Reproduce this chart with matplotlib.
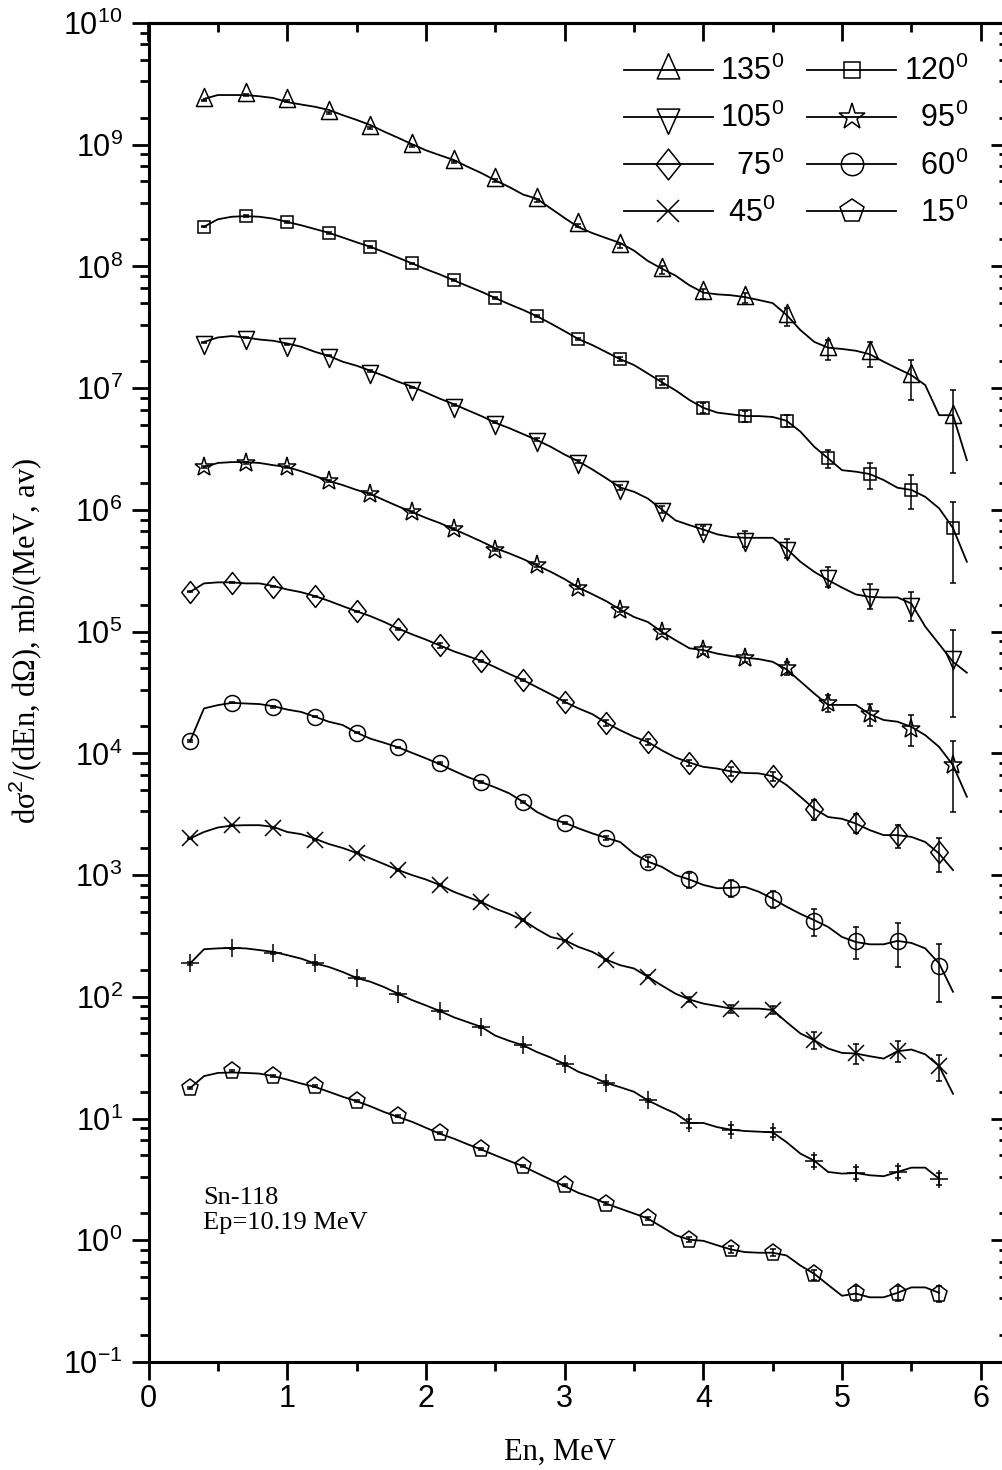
import numpy as np
import matplotlib.pyplot as plt
from matplotlib.path import Path
from matplotlib.lines import Line2D
from matplotlib.ticker import MultipleLocator, LogLocator, FixedLocator, NullFormatter

plt.rcParams['font.family'] = ['Liberation Sans', 'DejaVu Sans']
plt.rcParams['mathtext.fontset'] = 'custom'
plt.rcParams['mathtext.rm'] = 'Liberation Sans'
plt.rcParams['mathtext.it'] = 'Liberation Sans:italic'
plt.rcParams['mathtext.bf'] = 'Liberation Sans:bold'

# measured points: backward angles start at 0.4 MeV, forward ones at 0.3 MeV
en_a = [0.4, 0.7, 1.0, 1.3, 1.6, 1.9, 2.2, 2.5, 2.8, 3.1, 3.4, 3.7, 4.0, 4.3, 4.6, 4.9, 5.2, 5.5, 5.8]
en_b = [0.3, 0.6, 0.9, 1.2, 1.5, 1.8, 2.1, 2.4, 2.7, 3.0, 3.3, 3.6, 3.9, 4.2, 4.5, 4.8, 5.1, 5.4, 5.7]

y135 = [2.31e9, 2.56e9, 2.27e9, 1.82e9, 1.37e9, 9.8e8, 7.2e8, 5.1e8, 3.5e8, 2.17e8,
        1.47e8, 9.35e7, 6.0e7, 5.55e7, 3.9e7, 2.1e7, 1.93e7, 1.25e7, 5.8e6]
e135 = [4e7, 4e7, 4e7, 3e7, 3e7, 2e7, 1.5e7, 1.2e7, 1e7, 8e6,
        6e6, 6.5e6, 5.5e6, 5.5e6, 6.5e6, 4e6, 4.5e6, 4.5e6, 3.8e6]
y120 = [2.12e8, 2.6e8, 2.32e8, 1.89e8, 1.45e8, 1.06e8, 7.7e7, 5.5e7, 3.9e7, 2.53e7,
        1.73e7, 1.12e7, 6.9e6, 5.9e6, 5.4e6, 2.65e6, 1.97e6, 1.47e6, 7.1e5]
e120 = [3e6, 3e6, 3e6, 2.5e6, 2e6, 1.5e6, 1.2e6, 1e6, 8e5, 6e5,
        7e5, 6e5, 7e5, 6e5, 6e5, 4.3e5, 4.8e5, 4.5e5, 4.6e5]
y105 = [2.38e7, 2.61e7, 2.29e7, 1.86e7, 1.39e7, 1.01e7, 7.3e6, 5.3e6, 3.8e6, 2.5e6,
        1.53e6, 1.01e6, 6.8e5, 5.8e5, 4.9e5, 2.87e5, 1.99e5, 1.68e5, 6.2e4]
e105 = [3e5, 3e5, 3e5, 2.5e5, 2e5, 1.5e5, 1.2e5, 1e5, 9e4, 7e4,
        6e4, 6e4, 5.5e4, 8.5e4, 8.5e4, 5.5e4, 4.5e4, 4.5e4, 4.2e4]
y95 = [2.25e6, 2.43e6, 2.25e6, 1.73e6, 1.35e6, 9.6e5, 7.0e5, 4.7e5, 3.5e5, 2.3e5,
       1.5e5, 1.0e5, 7.1e4, 6.1e4, 5.0e4, 2.6e4, 2.1e4, 1.6e4, 8.0e3]
e95 = [3e4, 3e4, 3e4, 3e4, 2e4, 2e4, 1.5e4, 1e4, 1e4, 7e3,
       6e3, 5e3, 5e3, 5e3, 6e3, 4e3, 4.3e3, 4.5e3, 4.7e3]
y75 = [2.13e5, 2.52e5, 2.33e5, 1.96e5, 1.47e5, 1.06e5, 7.7e4, 5.75e4, 4.0e4, 2.65e4,
       1.78e4, 1.24e4, 8.4e3, 7.1e3, 6.5e3, 3.5e3, 2.7e3, 2.13e3, 1.55e3]
e75 = [2e3, 2e3, 2e3, 2e3, 2e3, 2e3, 4e3, 1.5e3, 1e3, 8e2,
       9e2, 7e2, 5e2, 6e2, 5.5e2, 6.5e2, 5e2, 4.7e2, 4.8e2]
y60 = [1.26e4, 2.6e4, 2.41e4, 2.0e4, 1.48e4, 1.12e4, 8.3e3, 5.8e3, 4.0e3, 2.69e3,
       2.02e3, 1.29e3, 9.2e2, 7.85e2, 6.4e2, 4.2e2, 2.9e2, 2.9e2, 1.8e2]
e60 = [2e2, 3e2, 3e2, 2e2, 2e2, 1.5e2, 1.2e2, 1e2, 8e1, 6e1,
       8e1, 1.2e2, 1.3e2, 1.25e2, 1.0e2, 1.05e2, 8.7e1, 1.15e2, 9e1]
y45 = [2.0e3, 2.57e3, 2.46e3, 1.96e3, 1.52e3, 1.1e3, 8.3e2, 6.0e2, 4.26e2, 2.9e2,
       2.0e2, 1.46e2, 9.5e1, 8.0e1, 7.8e1, 4.4e1, 3.46e1, 3.6e1, 2.7e1]
e45 = [2e1, 2e1, 2e1, 2e1, 1.5e1, 1.5e1, 1e1, 8, 6, 4,
       4, 4, 5, 6, 6, 7, 6.5, 7, 6.5]
y30 = [1.88e2, 2.5e2, 2.3e2, 1.88e2, 1.43e2, 1.06e2, 7.65e1, 5.66e1, 4.0e1, 2.8e1,
       1.96e1, 1.41e1, 9.2, 8.1, 7.7, 4.5, 3.6, 3.64, 3.2]
e30 = [4, 4, 4, 4, 3, 2, 1.5, 1.2, 1, 0.8,
       0.6, 0.5, 0.8, 0.7, 0.7, 0.5, 0.4, 0.4, 0.35]
y15 = [1.78e1, 2.45e1, 2.23e1, 1.84e1, 1.39e1, 1.04e1, 7.6, 5.6, 4.05, 2.83,
       2.0, 1.51, 1.01, 0.84, 0.79, 0.525, 0.37, 0.37, 0.365]
e15 = [0.4, 0.4, 0.4, 0.3, 0.3, 0.2, 0.15, 0.1, 0.08, 0.06,
       0.05, 0.04, 0.05, 0.05, 0.05, 0.05, 0.055, 0.055, 0.055]

# smoothed curves on a 0.1 MeV grid
grid_a = np.round(np.arange(0.4, 5.95, 0.1), 1)   # 0.4 ... 5.9
grid_b = np.round(np.arange(0.3, 5.85, 0.1), 1)   # 0.3 ... 5.8
grid_c = np.round(np.arange(0.3, 5.75, 0.1), 1)   # 0.3 ... 5.7

c135 = [2.38e9, 2.56e9, 2.56e9, 2.56e9, 2.5e9, 2.42e9, 2.24e9, 2.14e9, 2.05e9, 1.93e9,
        1.75e9, 1.6e9, 1.45e9, 1.28e9, 1.14e9, 1.01e9, 9.0e8, 8.2e8, 7.5e8, 6.6e8,
        5.85e8, 5.1e8, 4.5e8, 3.9e8, 3.6e8, 3.0e8, 2.5e8, 2.1e8, 1.88e8, 1.71e8,
        1.56e8, 1.35e8, 1.11e8, 9.6e7, 8.4e7, 7.0e7, 6.1e7, 5.9e7, 5.8e7, 5.6e7,
        5.3e7, 5.0e7, 4.0e7, 3.0e7, 2.4e7, 2.15e7, 2.1e7, 2.03e7, 1.9e7, 1.65e7,
        1.45e7, 1.28e7, 1.06e7, 6.0e6, 6.0e6, 2.56e6]
c120 = [2.12e8, 2.44e8, 2.56e8, 2.59e8, 2.56e8, 2.47e8, 2.32e8, 2.18e8, 2.03e8, 1.89e8,
        1.73e8, 1.58e8, 1.45e8, 1.31e8, 1.18e8, 1.06e8, 9.5e7, 8.6e7, 7.7e7, 6.9e7,
        6.2e7, 5.5e7, 4.9e7, 4.4e7, 3.9e7, 3.4e7, 2.94e7, 2.53e7, 2.26e7, 1.98e7,
        1.73e7, 1.55e7, 1.32e7, 1.12e7, 9.6e6, 8.0e6, 6.9e6, 6.3e6, 6.1e6, 5.9e6,
        5.9e6, 5.8e6, 5.4e6, 4.4e6, 3.3e6, 2.65e6, 2.12e6, 2.06e6, 1.97e6, 1.76e6,
        1.52e6, 1.46e6, 1.28e6, 1.03e6, 7.1e5, 3.75e5]
c105 = [2.4e7, 2.61e7, 2.68e7, 2.61e7, 2.51e7, 2.45e7, 2.33e7, 2.19e7, 1.99e7, 1.84e7,
        1.65e7, 1.53e7, 1.39e7, 1.26e7, 1.13e7, 1.03e7, 9.2e6, 8.2e6, 7.4e6, 6.6e6,
        5.9e6, 5.2e6, 4.7e6, 4.2e6, 3.75e6, 3.3e6, 2.85e6, 2.5e6, 2.15e6, 1.82e6,
        1.53e6, 1.41e6, 1.24e6, 1.01e6, 8.2e5, 7.5e5, 6.9e5, 6.3e5, 6.0e5, 5.9e5,
        5.9e5, 5.9e5, 4.8e5, 3.75e5, 3.1e5, 2.65e5, 2.3e5, 2.02e5, 1.93e5, 1.91e5,
        1.91e5, 1.7e5, 1.1e5, 7.9e4, 5.65e4, 4.6e4]
c95 = [2.25e6, 2.43e6, 2.47e6, 2.47e6, 2.43e6, 2.33e6, 2.25e6, 2.08e6, 1.9e6, 1.73e6,
       1.6e6, 1.46e6, 1.35e6, 1.2e6, 1.07e6, 9.6e5, 8.6e5, 7.8e5, 6.95e5, 6.2e5,
       5.5e5, 4.85e5, 4.4e5, 3.95e5, 3.5e5, 3.1e5, 2.7e5, 2.3e5, 2.03e5, 1.78e5,
       1.52e5, 1.32e5, 1.2e5, 9.96e4, 8.5e4, 7.3e4, 7.05e4, 6.6e4, 6.3e4, 6.1e4,
       5.95e4, 5.65e4, 4.9e4, 3.9e4, 3.1e4, 2.5e4, 2.5e4, 2.5e4, 2.1e4, 1.88e4,
       1.82e4, 1.65e4, 1.41e4, 1.13e4, 8.0e3, 4.4e3]
c75 = [2.12e5, 2.49e5, 2.54e5, 2.54e5, 2.49e5, 2.49e5, 2.37e5, 2.22e5, 2.11e5, 1.96e5,
       1.79e5, 1.62e5, 1.47e5, 1.34e5, 1.2e5, 1.06e5, 9.5e4, 8.6e4, 7.7e4, 6.9e4,
       6.3e4, 5.75e4, 5.1e4, 4.5e4, 4.0e4, 3.5e4, 3.06e4, 2.65e4, 2.34e4, 2.1e4,
       1.78e4, 1.55e4, 1.37e4, 1.24e4, 1.06e4, 9.25e3, 8.4e3, 7.75e3, 7.5e3, 7.1e3,
       6.9e3, 6.85e3, 6.5e3, 5.5e3, 4.4e3, 3.5e3, 3.0e3, 2.9e3, 2.65e3, 2.34e3,
       2.13e3, 2.13e3, 2.06e3, 1.87e3, 1.5e3, 1.1e3]
c60 = [1.26e4, 2.34e4, 2.49e4, 2.6e4, 2.57e4, 2.54e4, 2.44e4, 2.29e4, 2.19e4, 2.0e4,
       1.82e4, 1.71e4, 1.48e4, 1.32e4, 1.22e4, 1.12e4, 1.01e4, 9.1e3, 8.15e3, 7.2e3,
       6.4e3, 5.8e3, 5.25e3, 4.7e3, 4.0e3, 3.3e3, 2.9e3, 2.69e3, 2.42e3, 2.2e3,
       2.02e3, 1.87e3, 1.5e3, 1.29e3, 1.17e3, 1.0e3, 9.2e2, 8.3e2, 7.8e2, 7.85e2,
       8.0e2, 7.3e2, 6.4e2, 5.5e2, 4.8e2, 4.26e2, 3.75e2, 3.1e2, 2.82e2, 2.7e2,
       2.7e2, 2.88e2, 2.77e2, 2.5e2, 1.88e2, 1.1e2]
c45 = [2.0e3, 2.26e3, 2.46e3, 2.55e3, 2.57e3, 2.57e3, 2.49e3, 2.26e3, 2.17e3, 1.99e3,
       1.8e3, 1.67e3, 1.52e3, 1.37e3, 1.23e3, 1.1e3, 1.0e3, 9.2e2, 8.3e2, 7.3e2,
       6.6e2, 6.0e2, 5.3e2, 4.8e2, 4.26e2, 3.6e2, 3.1e2, 2.92e2, 2.57e2, 2.34e2,
       2.02e2, 1.82e2, 1.71e2, 1.46e2, 1.24e2, 1.06e2, 9.5e1, 8.8e1, 8.4e1, 8.0e1,
       8.0e1, 8.0e1, 7.8e1, 6.2e1, 5.0e1, 4.4e1, 3.76e1, 3.46e1, 3.42e1, 3.25e1,
       3.11e1, 3.57e1, 3.69e1, 3.37e1, 2.7e1, 1.6e1]
c30 = [1.88e2, 2.46e2, 2.5e2, 2.52e2, 2.5e2, 2.42e2, 2.34e2, 2.2e2, 2.06e2, 1.88e2,
       1.76e2, 1.6e2, 1.43e2, 1.33e2, 1.2e2, 1.06e2, 9.4e1, 8.5e1, 7.65e1, 6.8e1,
       6.2e1, 5.66e1, 4.8e1, 4.35e1, 4.0e1, 3.52e1, 3.17e1, 2.8e1, 2.42e1, 2.2e1,
       1.96e1, 1.81e1, 1.66e1, 1.41e1, 1.24e1, 1.1e1, 9.2, 9.2, 8.5, 8.1,
       7.9, 7.8, 7.7, 6.4, 5.15, 4.5, 3.64, 3.53, 3.57, 3.42,
       3.36, 3.64, 3.95, 3.95, 3.21]
c15 = [1.78e1, 2.23e1, 2.37e1, 2.39e1, 2.37e1, 2.34e1, 2.23e1, 2.09e1, 1.94e1, 1.82e1,
       1.66e1, 1.51e1, 1.39e1, 1.26e1, 1.13e1, 1.03e1, 9.4, 8.4, 7.5, 6.85,
       6.15, 5.56, 4.99, 4.49, 4.06, 3.57, 3.15, 2.78, 2.45, 2.24,
       2.0, 1.82, 1.66, 1.51, 1.29, 1.1, 1.01, 0.99, 0.91, 0.84,
       0.80, 0.79, 0.79, 0.75, 0.62, 0.53, 0.43, 0.35, 0.365, 0.34,
       0.34, 0.37, 0.41, 0.41, 0.37]

# open triangles centred on their centroid, tall diamond
tri_up = Path([(0, 1), (-0.67, -0.5), (0.67, -0.5), (0, 1)],
              [Path.MOVETO, Path.LINETO, Path.LINETO, Path.CLOSEPOLY])
tri_dn = Path([(0, -1), (-0.67, 0.5), (0.67, 0.5), (0, -1)],
              [Path.MOVETO, Path.LINETO, Path.LINETO, Path.CLOSEPOLY])
diamond = Path([(0, 1), (-0.8, 0), (0, -1), (0.8, 0), (0, 1)],
               [Path.MOVETO, Path.LINETO, Path.LINETO, Path.LINETO, Path.CLOSEPOLY])

series = [
    ('135', en_a, y135, e135, grid_a, c135, tri_up, 17.3),
    ('120', en_a, y120, e120, grid_a, c120, 's', 8.6),
    ('105', en_a, y105, e105, grid_a, c105, tri_dn, 17.3),
    ('95', en_a, y95, e95, grid_a, c95, '*', 14),
    ('75', en_b, y75, e75, grid_b, c75, diamond, 15.8),
    ('60', en_b, y60, e60, grid_b, c60, 'o', 11.5),
    ('45', en_b, y45, e45, grid_b, c45, 'x', 11),
    ('30', en_b, y30, e30, grid_c, c30, '+', 13),
    ('15', en_b, y15, e15, grid_c, c15, 'p', 12.5),
]

fig = plt.figure(figsize=(10.02, 14.70), dpi=100)
ax = fig.add_axes([148.5 / 1002, 108 / 1470, 859 / 1002, 1339 / 1470])

handles = {}
for name, xs, ys, es, xf, yf, mk, ms in series:
    ax.plot(xf, yf, color='k', lw=1.3, zorder=2)
    ax.errorbar(xs, ys, yerr=es, fmt='none', ecolor='k', elinewidth=1.1,
                capsize=2, capthick=1.1, zorder=3)
    ax.plot(xs, ys, ls='none', marker=mk, ms=ms, mfc='none', mec='k', mew=1.1, zorder=4)
    handles[name] = Line2D([], [], color='k', lw=1.3, marker=mk, ms=ms * 1.4,
                           mfc='none', mec='k', mew=1.1)

ax.set_yscale('log')
ax.set_xlim(0, 6.193)
ax.set_ylim(0.1, 1e10)

minor_y = [k * 10.0 ** (n + 1) / 6 for n in range(-1, 10) for k in range(1, 6)]

ax.xaxis.set_major_locator(MultipleLocator(1))
ax.xaxis.set_minor_locator(MultipleLocator(0.5))
ax.yaxis.set_major_locator(LogLocator(base=10, numticks=20))
ax.yaxis.set_minor_locator(FixedLocator(minor_y))
ax.yaxis.set_minor_formatter(NullFormatter())

for sp in ax.spines.values():
    sp.set_linewidth(2.2)
ax.tick_params(which='major', direction='out', length=12.6, width=2.0, labelsize=22)
ax.tick_params(which='minor', direction='out', length=6.5, width=2.0)
ax.tick_params(axis='x', pad=3)
ax.tick_params(axis='y', pad=6)

# inward ticks on the top and right sides
top = ax.secondary_xaxis('top')
top.xaxis.set_major_locator(MultipleLocator(1))
top.xaxis.set_minor_locator(MultipleLocator(0.5))
top.tick_params(which='major', direction='in', length=12.6, width=2.0,
                labeltop=False, labelbottom=False)
top.tick_params(which='minor', direction='in', length=6.5, width=2.0)
top.spines['top'].set_linewidth(2.2)

right = ax.secondary_yaxis('right')
right.yaxis.set_major_locator(LogLocator(base=10, numticks=20))
right.yaxis.set_minor_locator(FixedLocator(minor_y))
right.yaxis.set_minor_formatter(NullFormatter())
right.tick_params(which='major', direction='in', length=12.6, width=2.0,
                  labelright=False, labelleft=False)
right.tick_params(which='minor', direction='in', length=6.5, width=2.0)

serif = ['Liberation Serif', 'DejaVu Serif']
ax.set_xlabel('En, MeV', family=serif, fontsize=22)
ax.xaxis.set_label_coords(0.479, -0.0565)
ax.set_ylabel('dσ$^{\\mathrm{2}}$/(dEn, dΩ), mb/(MeV, av)', family=serif, fontsize=22)
ax.yaxis.set_label_coords(-0.122, 0.5385)

ax.text(0.0634, 0.131, 'Sn-118\nEp=10.19 MeV', transform=ax.transAxes,
        family=serif, fontsize=19, ha='left', va='top', linespacing=1.2)

order = ['135', '105', '75', '45', '120', '95', '60', '15']
labels = [r'$\mathregular{135^0}$', r'$\mathregular{105^0}$', r'  $\mathregular{75^0}$',
          r' $\mathregular{45^0}$', r'$\mathregular{120^0}$', r'  $\mathregular{95^0}$',
          r'  $\mathregular{60^0}$', r'  $\mathregular{15^0}$']
ax.legend([handles[k] for k in order], labels, ncol=2, loc='upper right',
          bbox_to_anchor=(968 / 1002, 1 - 56 / 1470), bbox_transform=fig.transFigure,
          frameon=False, fontsize=22, handlelength=2.9, handletextpad=0.25,
          columnspacing=0.75, labelspacing=0.52, borderpad=0, borderaxespad=0)

fig.savefig('out.png', dpi=100)
